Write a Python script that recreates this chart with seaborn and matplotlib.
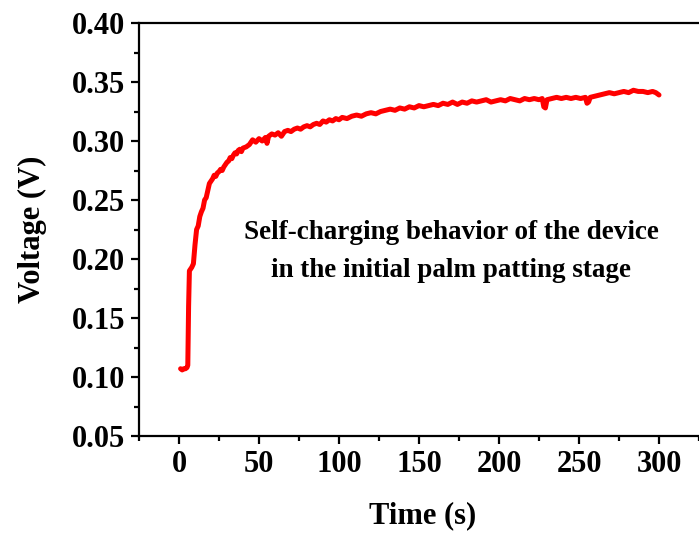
import numpy as np
import pandas as pd
import matplotlib
matplotlib.use("Agg")
import matplotlib.pyplot as plt
import seaborn as sns
from matplotlib.ticker import MultipleLocator, AutoMinorLocator

# values
time_s = [1, 2, 3, 4, 5, 5.5, 6.0, 6.5, 7, 8, 9, 10, 11, 12, 13, 14, 15, 16, 17, 18,
          19, 20, 21, 22, 23, 24, 25, 26, 27, 28, 29, 30, 31, 32, 33, 34, 35, 36, 37, 38,
          39, 40, 42, 44, 46, 48, 50, 52, 54, 55, 56, 58, 60, 62, 64, 66, 68, 70, 72, 74,
          76, 78, 80, 82, 84, 86, 88, 90, 92, 94, 96, 98, 100, 102, 105, 108, 111, 114, 117, 120,
          123, 126, 129, 132, 135, 138, 141, 144, 147, 150, 153, 156, 159, 162, 165, 168, 171, 174, 177, 180,
          183, 186, 189, 192, 195, 198, 201, 204, 207, 210, 213, 216, 219, 222, 225, 227, 228, 229, 230, 233,
          236, 239, 242, 245, 248, 251, 254, 255, 256, 257, 260, 263, 266, 269, 272, 275, 278, 281, 284, 287,
          290, 293, 296, 298, 300]
voltage = [0.107, 0.106, 0.107, 0.107, 0.108, 0.110, 0.160, 0.190, 0.191, 0.193, 0.196, 0.212, 0.225, 0.228, 0.236, 0.240, 0.243, 0.250, 0.252, 0.258,
           0.264, 0.266, 0.268, 0.271, 0.270, 0.273, 0.274, 0.276, 0.275, 0.278, 0.280, 0.282, 0.283, 0.286, 0.285, 0.288, 0.290, 0.289, 0.292, 0.293,
           0.291, 0.294, 0.295, 0.297, 0.301, 0.299, 0.302, 0.300, 0.303, 0.298, 0.304, 0.306, 0.305, 0.307, 0.304, 0.308, 0.309, 0.308, 0.310, 0.311,
           0.310, 0.312, 0.313, 0.312, 0.314, 0.315, 0.314, 0.317, 0.316, 0.318, 0.317, 0.319, 0.318, 0.320, 0.319, 0.321, 0.322, 0.321, 0.323, 0.324,
           0.323, 0.325, 0.326, 0.327, 0.326, 0.328, 0.327, 0.329, 0.328, 0.330, 0.329, 0.330, 0.331, 0.330, 0.332, 0.331, 0.333, 0.331, 0.333, 0.332,
           0.334, 0.333, 0.334, 0.335, 0.333, 0.334, 0.335, 0.334, 0.336, 0.335, 0.334, 0.336, 0.335, 0.336, 0.335, 0.336, 0.329, 0.328, 0.335, 0.336,
           0.337, 0.336, 0.337, 0.336, 0.337, 0.336, 0.337, 0.332, 0.333, 0.337, 0.338, 0.339, 0.340, 0.341, 0.340, 0.341, 0.342, 0.341, 0.343, 0.342,
           0.342, 0.341, 0.342, 0.341, 0.339]

df = pd.DataFrame({"time": time_s, "voltage": voltage})

sns.set_style("ticks")
plt.rcParams["font.family"] = ["Liberation Serif", "DejaVu Serif"]
plt.rcParams["font.weight"] = "bold"
plt.rcParams["text.color"] = "black"
plt.rcParams["axes.labelcolor"] = "black"

fig = plt.figure(figsize=(6.99, 5.40), dpi=100)
# axes run a little past the right edge, as in the cropped original
ax = fig.add_axes([139 / 699, 104 / 540, 568 / 699, 413 / 540])

sns.lineplot(data=df, x="time", y="voltage", color="#ff0000", linewidth=3.6, ax=ax)

ax.set_xlim(-25, 330)
ax.set_ylim(0.05, 0.40)
ax.xaxis.set_major_locator(MultipleLocator(50))
ax.xaxis.set_minor_locator(AutoMinorLocator(2))
ax.yaxis.set_major_locator(MultipleLocator(0.05))
ax.yaxis.set_minor_locator(AutoMinorLocator(2))
ax.yaxis.set_major_formatter(plt.FuncFormatter(lambda v, p: f"{v:.2f}"))

for side in ["left", "bottom", "top"]:
    ax.spines[side].set_linewidth(1.6)
    ax.spines[side].set_color("black")
ax.spines["right"].set_visible(False)

ax.tick_params(which="major", direction="out", length=6, width=1.6, labelsize=22,
               colors="black", pad=4)
ax.tick_params(which="minor", direction="out", length=3.5, width=1.6, colors="black")
ax.tick_params(top=False, right=False, which="both")
for lbl in ax.get_xticklabels() + ax.get_yticklabels():
    lbl.set_fontweight("bold")

ax.set_xlabel("Time (s)", fontsize=22, fontweight="bold", labelpad=16)
ax.set_ylabel("Voltage (V)", fontsize=22, fontweight="bold", labelpad=18)

ax.text(170, 0.2065, "Self-charging behavior of the device\nin the initial palm patting stage",
        ha="center", va="center", fontsize=19.5, fontweight="bold", linespacing=1.65)

fig.savefig("out.png", dpi=100)
